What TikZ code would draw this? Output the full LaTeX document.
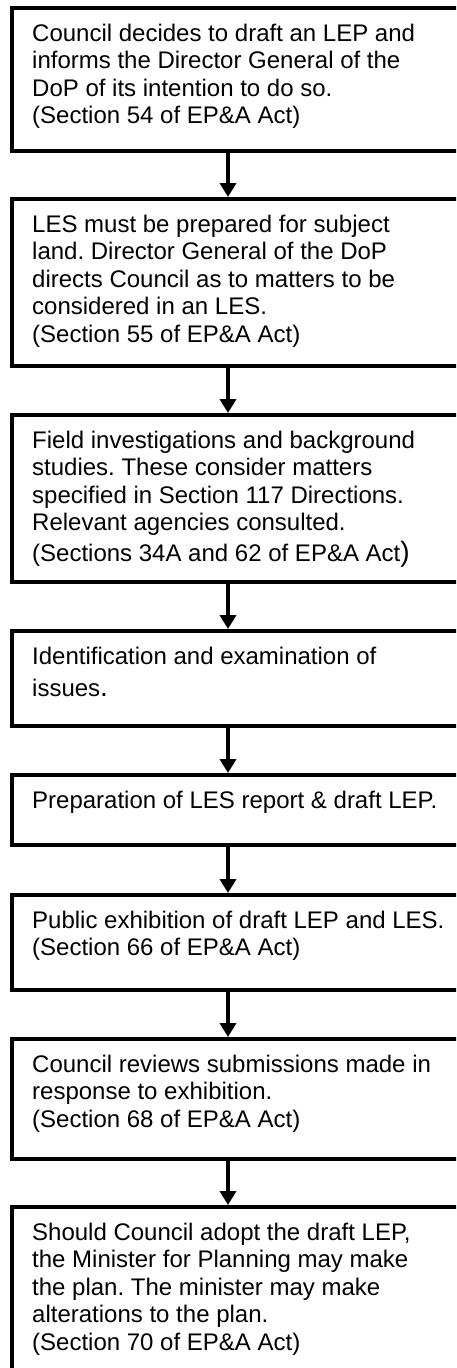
\documentclass[tikz,border=0pt]{standalone}
\usepackage{fontspec}
\setmainfont{Liberation Sans}
\usetikzlibrary{arrows.meta}
\frenchspacing
\begin{document}
\begin{tikzpicture}[x=1pt,y=-1pt,
  box/.style={draw, line width=4pt, outer sep=2pt, inner sep=0pt, minimum width=460pt, anchor=north west},
  txt/.style={anchor=north west, align=left, inner sep=0pt, font=\fontsize{24}{27.6}\selectfont\frenchspacing},
  arr/.style={line width=3.5pt, -{Triangle[width=16pt,length=14pt]}}]
\useasboundingbox (0,0) rectangle (456,1368);
\clip (0,0) rectangle (456,1368);
\fill[white] (0,0) rectangle (456,1368);
% boxes (top-left of border centre line at (12, top))
\node[box, minimum height=143pt] (b1) at (10,6) {};
\node[box, minimum height=167pt] (b2) at (10,197) {};
\node[box, minimum height=167pt] (b3) at (10,413) {};
\node[box, minimum height=95pt] (b4) at (10,629) {};
\node[box, minimum height=70pt] (b5) at (10,773) {};
\node[box, minimum height=95pt] (b6) at (10,893) {};
\node[box, minimum height=120pt] (b7) at (10,1037) {};
\node[box, minimum height=200pt] (b8) at (10,1205) {};
% texts
\node[txt] (t1) at (32,23.5) {Council decides to draft an LEP and\\informs the Director General of the\\DoP of its intention to do so.\\(Section 54 of EP\&A Act)};
\node[txt] (t2) at (32,214.5) {LES must be prepared for subject\\land. Director General of the DoP\\directs Council as to matters to be\\considered in an LES.\\(Section 55 of EP\&A Act)};
\node[txt] (t3) at (32,430.5) {Field investigations and background\\studies. These consider matters\\specified in Section 117 Directions.\\Relevant agencies consulted.\\[3.4pt](Sections 34A and 62 of EP\&A Act{\fontsize{28}{32}\selectfont)}};
\node[txt] (t4) at (32,646.5) {Identification and examination of\\[4.4pt]issues{\fontsize{28}{32}\selectfont.}};
\node[txt] (t5) at (32,790.5) {Preparation of LES report \& draft LEP.};
\node[txt] (t6) at (32,910.5) {Public exhibition of draft LEP and LES.\\(Section 66 of EP\&A Act)};
\node[txt] (t7) at (32,1054.5) {Council reviews submissions made in\\response to exhibition.\\(Section 68 of EP\&A Act)};
\node[txt] (t8) at (32,1222.5) {Should Council adopt the draft LEP,\\the Minister for Planning may make\\the plan. The minister may make\\alterations to the plan.\\(Section 70 of EP\&A Act)};
% arrows
\draw[arr] ([xshift=-14pt]b1.south) -- ([xshift=-14pt]b2.north);
\draw[arr] ([xshift=-14pt]b2.south) -- ([xshift=-14pt]b3.north);
\draw[arr] ([xshift=-14pt]b3.south) -- ([xshift=-14pt]b4.north);
\draw[arr] ([xshift=-14pt]b4.south) -- ([xshift=-14pt]b5.north);
\draw[arr] ([xshift=-14pt]b5.south) -- ([xshift=-14pt]b6.north);
\draw[arr] ([xshift=-14pt]b6.south) -- ([xshift=-14pt]b7.north);
\draw[arr] ([xshift=-14pt]b7.south) -- ([xshift=-14pt]b8.north);
\end{tikzpicture}
\end{document}
